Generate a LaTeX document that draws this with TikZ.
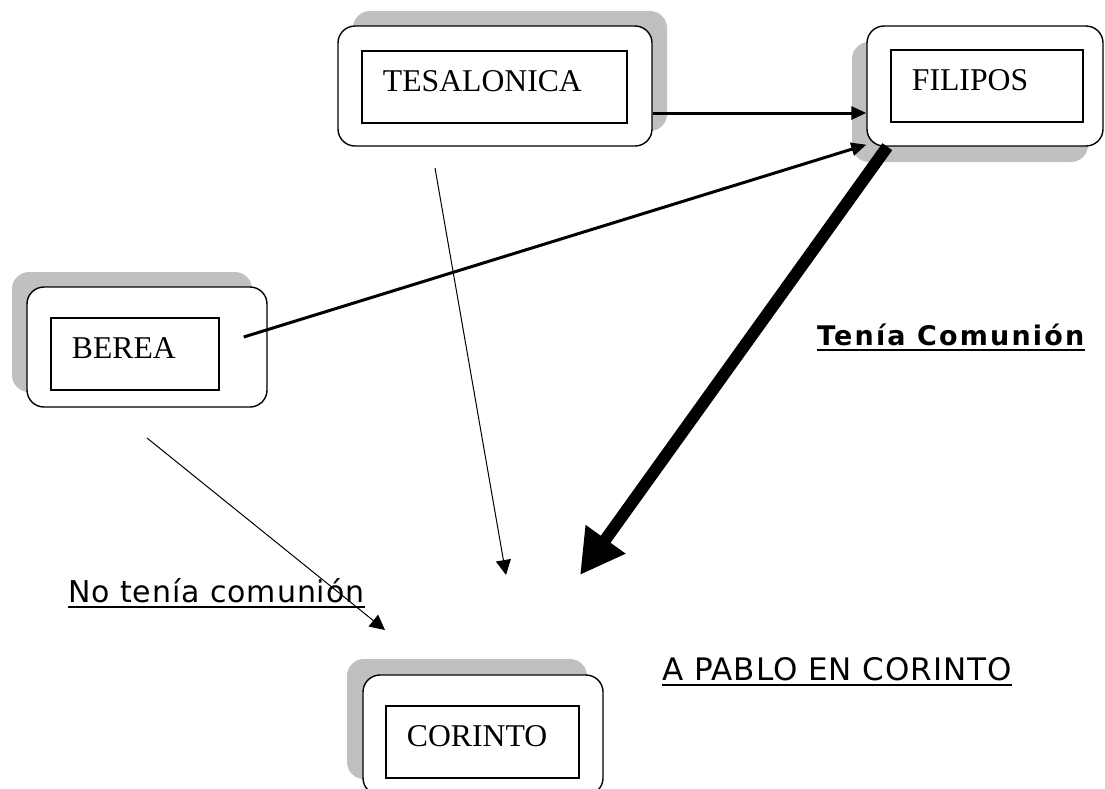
\documentclass[tikz,border=0pt]{standalone}
\usepackage{fontspec}
\setmainfont{Liberation Serif}
\newfontfamily\notefont{DejaVu Sans}
\usetikzlibrary{arrows.meta,shadows}
\definecolor{shadowgray}{HTML}{C0C0C0}

\begin{document}
\begin{tikzpicture}[x=1pt,y=-1pt]
\tikzstyle{town}=[draw,fill=white,line width=1.4pt,rounded corners=17pt,inner sep=0pt,minimum height=120pt]
\tikzstyle{tag}=[draw,fill=white,line width=1.2pt,anchor=north west,inner xsep=21pt,inner ysep=0pt,align=left,text height=41pt,text depth=31pt,font=\fontsize{31.7}{36}\selectfont]
\tikzstyle{note}=[inner sep=0pt,anchor=base west]
\tikzstyle{link}=[line width=3pt,-{Triangle[length=15pt,width=13pt]}]
\tikzstyle{hint}=[line width=1pt,-{Triangle[length=15pt,width=15pt]}]
\tikzstyle{heavy}=[line width=12pt,-{Triangle[length=44pt,width=46pt]}]
\tikzstyle{uline}=[line width=2pt]
\useasboundingbox (0,0) rectangle (1105,788);
\foreach \name/\point/\w/\sx/\sy in {
	tesalonica/{495,86}/314/15/15,
	filipos/{985,86}/236/-15/-16,
	berea/{147,347}/240/-15/15,
	corinto/{483,735}/240/-16/16}
	\node[town,minimum width=\w pt,drop shadow={shadow xshift=\sx pt,shadow yshift=\sy pt,fill=shadowgray,opacity=1}] (\name) at (\point) {};
\foreach \name/\txt/\dx/\dy/\w in {
	tesalonica/TESALONICA/24/25/223,
	filipos/FILIPOS/24/24/150,
	berea/BEREA/24/31/126,
	corinto/CORINTO/23/31/151}
	\node[tag,text width=\w pt] (\name-tag) at ([shift={(\dx,\dy)}]\name.north west) {\txt};
\node[note,font=\notefont\bfseries\fontsize{27}{32}\selectfont\addfontfeature{LetterSpace=8}] (tenia) at (817,345) {Tenía Comunión};
\node[note,font=\notefont\fontsize{30}{36}\selectfont\addfontfeature{LetterSpace=3}] (nocom) at (68,602) {No tenía comunión};
\node[note,font=\notefont\fontsize{31}{36}\selectfont\addfontfeature{LetterSpace=3}] (pablo) at (662,680) {A PABLO EN CORINTO};
\foreach \t in {tenia,nocom,pablo}
	\draw[uline] ([yshift=-5pt]\t.base west) -- ([yshift=-5pt]\t.base east);
\coordinate (gather) at (580,575);
\coordinate (tes-from) at (435,168);
\coordinate (tes-to) at (506,575);
\coordinate (ber-from) at (147,438);
\coordinate (ber-to) at (385,630);
\draw[link] ([yshift=-27pt]tesalonica.east) -- ([yshift=-27pt]filipos.west);
\draw[link] ([shift={(-24,-10)}]berea.east) -- ([yshift=2pt]filipos.south west);
\draw[heavy] ([xshift=21pt]filipos.south west) -- (gather);
\draw[hint] (tes-from) -- (tes-to);
\draw[hint] (ber-from) -- (ber-to);
\end{tikzpicture}
\end{document}
